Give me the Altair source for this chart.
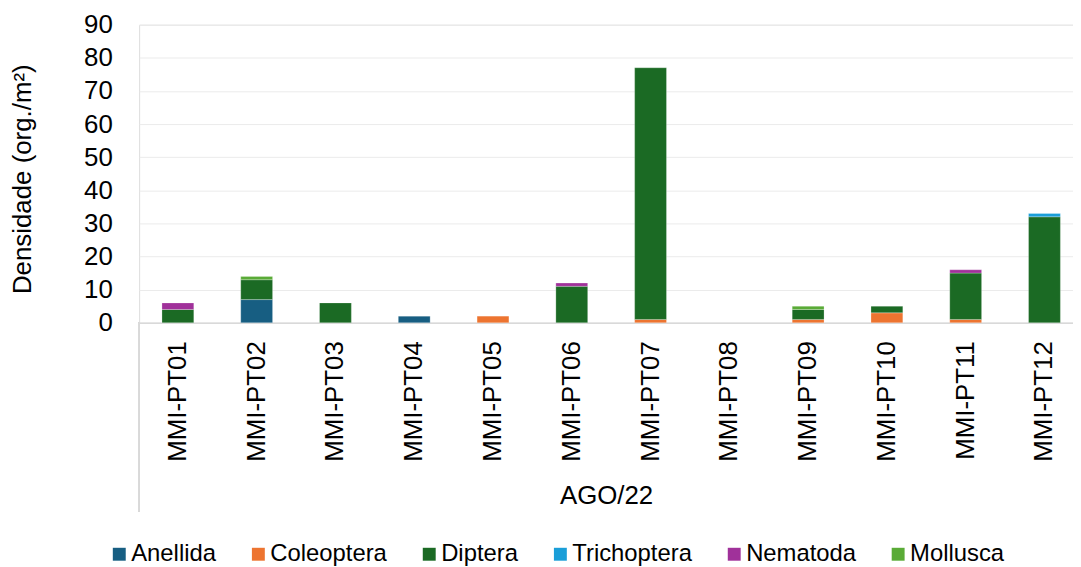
import altair as alt
import pandas as pd

sites = ["MMI-PT01", "MMI-PT02", "MMI-PT03", "MMI-PT04", "MMI-PT05", "MMI-PT06",
         "MMI-PT07", "MMI-PT08", "MMI-PT09", "MMI-PT10", "MMI-PT11", "MMI-PT12"]
taxa = ["Anellida", "Coleoptera", "Diptera", "Trichoptera", "Nematoda", "Mollusca"]
colors = ["#175e82", "#ed7430", "#1b6a24", "#1a9ed8", "#a0319a", "#5aab37"]

anellida    = [0, 7, 0, 2, 0, 0, 0, 0, 0, 0, 0, 0]
coleoptera  = [0, 0, 0, 0, 2, 0, 1, 0, 1, 3, 1, 0]
diptera     = [4, 6, 6, 0, 0, 11, 76, 0, 3, 2, 14, 32]
trichoptera = [0, 0, 0, 0, 0, 0, 0, 0, 0, 0, 0, 1]
nematoda    = [2, 0, 0, 0, 0, 1, 0, 0, 0, 0, 1, 0]
mollusca    = [0, 1, 0, 0, 0, 0, 0, 0, 1, 0, 0, 0]

series = [anellida, coleoptera, diptera, trichoptera, nematoda, mollusca]
rows = []
for k, (name, vals) in enumerate(zip(taxa, series)):
    for s, v in zip(sites, vals):
        if v > 0:
            rows.append({"site": s, "taxon": name, "value": v, "ord": k})
df = pd.DataFrame(rows)

FONT = "Liberation Sans"

bars = alt.Chart(df).mark_bar(stroke="#ffffff", strokeWidth=0.5, strokeOpacity=0.5).encode(
    x=alt.X("site:N", sort=sites,
            scale=alt.Scale(domain=sites, paddingInner=0.596, paddingOuter=0.225, align=0.644),
            axis=alt.Axis(title="AGO/22", labelAngle=-90, labelAlign="right", labelBaseline="middle",
                          labelPadding=18, labelFontSize=26, labelColor="#000000", labelFont=FONT,
                          ticks=False, domainColor="#d9d9d9", domainWidth=1.5, grid=False,
                          titleFontSize=26, titleFontWeight="normal", titleColor="#000000", titleFont=FONT,
                          titleY=174, titleBaseline="middle", titleAnchor="middle")),
    y=alt.Y("value:Q", stack="zero",
            scale=alt.Scale(domain=[0, 90], nice=False),
            axis=alt.Axis(title="Densidade (org./m²)", values=list(range(0, 91, 10)),
                          domain=False, ticks=False, labelPadding=27, labelFontSize=26,
                          labelColor="#000000", labelFont=FONT, gridColor="#ebebeb", gridWidth=1,
                          titleFontSize=26, titleFontWeight="normal", titleColor="#000000", titleFont=FONT,
                          titleX=-117, titleY=155, titleAngle=-90, titleAlign="center",
                          titleBaseline="middle")),
    color=alt.Color("taxon:N", scale=alt.Scale(domain=taxa, range=colors),
                    legend=alt.Legend(title=None, orient="none", direction="horizontal", columns=6,
                                      legendX=-32, legendY=521, padding=0, symbolType="square",
                                      symbolSize=169, symbolStrokeWidth=0, labelFontSize=24,
                                      labelFont=FONT, labelColor="#000000", labelOffset=0,
                                      columnPadding=30)),
    order=alt.Order("ord:Q", sort="ascending"),
)

sep = alt.Chart(df).mark_rule(color="#d9d9d9", strokeWidth=1.5).encode(
    x=alt.value(0), y=alt.value(300), y2=alt.value(490)
)

chart = alt.layer(bars, sep).properties(
    width=940, height=300,
    autosize=alt.AutoSizeParams(type="none"),
    padding={"left": 132, "top": 15, "right": 0, "bottom": 244},
).configure_view(stroke=None).configure(font=FONT)

chart.save("out.html", embed_options={"renderer": "svg", "actions": False})
